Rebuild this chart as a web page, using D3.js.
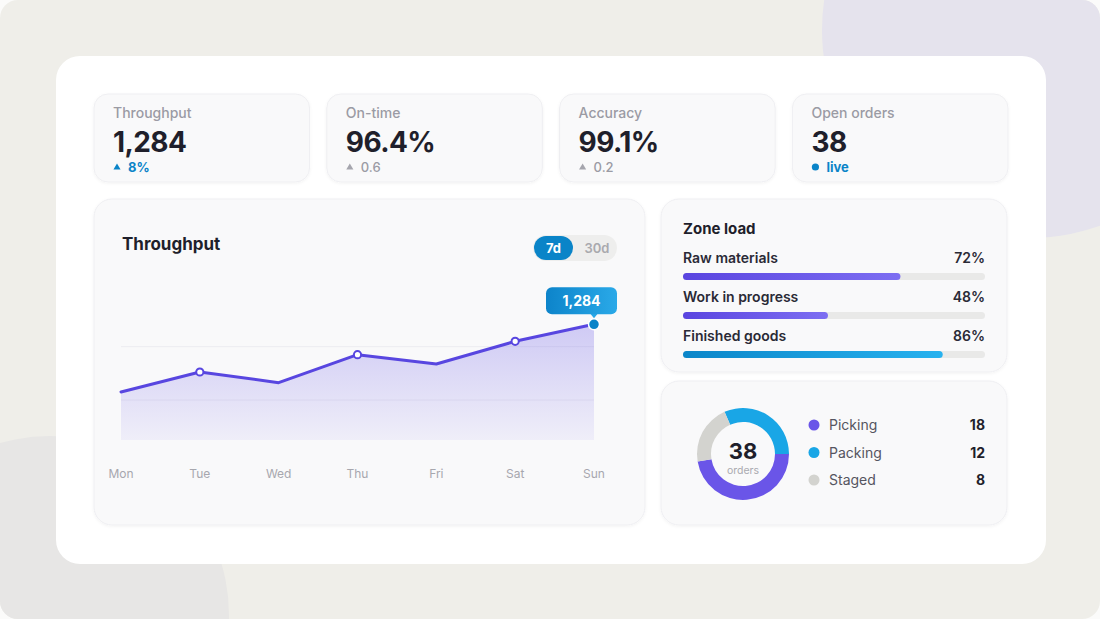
<!DOCTYPE html>
<html lang="en">
<head>
<meta charset="UTF-8">
<title>Warehouse dashboard</title>
<script src="https://cdn.jsdelivr.net/npm/d3@7"></script>
<style>
  html, body { margin: 0; padding: 0; background: #fbfbfa; }
  svg { display: block; font-family: Inter, "Noto Sans", sans-serif; }
</style>
</head>
<body>
<script>
// ---- data ----
var kpiLabels = ["Throughput", "On-time", "Accuracy", "Open orders"];
var kpiValues = ["1,284", "96.4%", "99.1%", "38"];
var kpiDeltas = ["8%", "0.6", "0.2", "live"];
var kpiDeltaKind = ["up", "flat", "flat", "live"];

var days = ["Mon", "Tue", "Wed", "Thu", "Fri", "Sat", "Sun"];
var throughput = [1030, 1105, 1065, 1170, 1135, 1220, 1284];
var gridTicks = [1000, 1200];

var zones = ["Raw materials", "Work in progress", "Finished goods"];
var zoneLoad = [72, 48, 86];

var orderStatus = ["Picking", "Packing", "Staged"];
var orderCounts = [18, 12, 8];
var orderColors = ["#6a55e8", "#19a6e6", "#d3d3cf"];

var W = 1100, H = 619;
var dark = "#1f1f2b", muted = "#9b9ba4", blue = "#0a84c8";

var svg = d3.select("body").append("svg")
    .attr("width", W)
    .attr("height", H);

var defs = svg.append("defs");

var shadow = defs.append("filter").attr("id", "shadow")
    .attr("x", "-10%").attr("y", "-10%").attr("width", "120%").attr("height", "130%");
shadow.append("feDropShadow")
    .attr("dx", 0).attr("dy", 1).attr("stdDeviation", 1.5)
    .attr("flood-color", "#000").attr("flood-opacity", 0.05);

function linGrad(id, c1, c2, vertical) {
    var g = defs.append("linearGradient").attr("id", id)
        .attr("x1", 0).attr("y1", 0)
        .attr("x2", vertical ? 0 : 1).attr("y2", vertical ? 1 : 0);
    g.append("stop").attr("offset", "0%").attr("stop-color", c1[0]).attr("stop-opacity", c1[1]);
    g.append("stop").attr("offset", "100%").attr("stop-color", c2[0]).attr("stop-opacity", c2[1]);
}
linGrad("areaGrad", ["#6c5ce7", 0.3], ["#6c5ce7", 0.07], true);
linGrad("purpleBar", ["#5a45e0", 1], ["#7d6ef2", 1], false);
linGrad("blueBar", ["#0b86c9", 1], ["#27b2ef", 1], false);
linGrad("tipGrad", ["#0d84ca", 1], ["#2aa9e8", 1], false);

// ---- background ----
var clip = defs.append("clipPath").attr("id", "pageClip");
clip.append("rect").attr("width", W).attr("height", H).attr("rx", 18);

var bg = svg.append("g").attr("clip-path", "url(#pageClip)");
bg.append("rect").attr("width", W).attr("height", H).attr("fill", "#efeee9");
bg.append("circle").attr("cx", 1030).attr("cy", 30).attr("r", 208).attr("fill", "#e5e3ed");
bg.append("circle").attr("cx", 50).attr("cy", 615).attr("r", 179).attr("fill", "#e7e6e5");

svg.append("rect")
    .attr("x", 56).attr("y", 56).attr("width", 990).attr("height", 508)
    .attr("rx", 24).attr("fill", "#ffffff");

function card(x, y, w, h, r) {
    return svg.append("rect")
        .attr("x", x).attr("y", y).attr("width", w).attr("height", h)
        .attr("rx", r).attr("fill", "#f9f9fa")
        .attr("stroke", "#efeff2").attr("stroke-width", 1)
        .attr("filter", "url(#shadow)");
}

// ---- KPI cards ----
var kpiX = d3.scaleBand().domain(d3.range(kpiLabels.length)).range([94, 1008]).paddingInner(0.074);

kpiLabels.forEach(function (lab, i) {
    var x0 = kpiX(i);
    card(x0, 94, kpiX.bandwidth(), 88, 14);
    var tx = x0 + 19;
    svg.append("text").attr("x", tx).attr("y", 118)
        .attr("font-size", 14).attr("font-weight", 500).attr("fill", muted).text(lab);
    svg.append("text").attr("x", tx).attr("y", 152)
        .attr("font-size", 28).attr("font-weight", 700).attr("fill", dark)
        .attr("letter-spacing", "-0.6").text(kpiValues[i]);

    var kind = kpiDeltaKind[i];
    var col = kind === "flat" ? muted : blue;
    if (kind === "live") {
        svg.append("circle").attr("cx", tx + 4).attr("cy", 167).attr("r", 3.6).attr("fill", blue);
    } else {
        svg.append("path")
            .attr("d", d3.symbol(d3.symbolTriangle, 22)())
            .attr("transform", "translate(" + (tx + 4) + ",167.5)")
            .attr("fill", kind === "up" ? blue : "#a5a5ad");
    }
    svg.append("text").attr("x", tx + 15).attr("y", 172)
        .attr("font-size", 13).attr("font-weight", kind === "flat" ? 500 : 700)
        .attr("fill", col).text(kpiDeltas[i]);
});

// ---- throughput chart ----
card(94, 199, 551, 326, 18);

svg.append("text").attr("x", 122).attr("y", 250)
    .attr("font-size", 17).attr("font-weight", 700).attr("fill", dark).text("Throughput");

svg.append("rect").attr("x", 533).attr("y", 235).attr("width", 84).attr("height", 26)
    .attr("rx", 13).attr("fill", "#eeeeed");
svg.append("rect").attr("x", 534).attr("y", 236).attr("width", 39).attr("height", 24)
    .attr("rx", 12).attr("fill", blue);
svg.append("text").attr("x", 553.5).attr("y", 252.5).attr("text-anchor", "middle")
    .attr("font-size", 13).attr("font-weight", 700).attr("fill", "#fff").text("7d");
svg.append("text").attr("x", 597).attr("y", 252.5).attr("text-anchor", "middle")
    .attr("font-size", 13).attr("font-weight", 600).attr("fill", "#a9a9ae").text("30d");

var x = d3.scalePoint().domain(days).range([121, 594]);
var y = d3.scaleLinear().domain([850, 1300]).range([440, 320]);

svg.append("g").selectAll("line")
    .data(gridTicks)
    .enter()
    .append("line")
    .attr("x1", 121).attr("x2", 594)
    .attr("y1", function (d) { return y(d); })
    .attr("y2", function (d) { return y(d); })
    .attr("stroke", "#ececf0").attr("stroke-width", 1);

var area = d3.area()
    .x(function (d, i) { return x(days[i]); })
    .y0(y(850))
    .y1(function (d) { return y(d); });

var line = d3.line()
    .x(function (d, i) { return x(days[i]); })
    .y(function (d) { return y(d); });

svg.append("path").datum(throughput).attr("d", area).attr("fill", "url(#areaGrad)");
svg.append("path").datum(throughput).attr("d", line)
    .attr("fill", "none").attr("stroke", "#5846e0").attr("stroke-width", 3)
    .attr("stroke-linejoin", "round").attr("stroke-linecap", "round");

// hollow markers on Tue, Thu, Sat
svg.append("g").selectAll("circle")
    .data(throughput.map(function (v, i) { return { v: v, i: i }; })
        .filter(function (d) { return d.i % 2 === 1; }))
    .enter()
    .append("circle")
    .attr("cx", function (d) { return x(days[d.i]); })
    .attr("cy", function (d) { return y(d.v); })
    .attr("r", 3.6)
    .attr("fill", "#fff").attr("stroke", "#5846e0").attr("stroke-width", 2);

var last = throughput.length - 1;
var lx = x(days[last]), ly = y(throughput[last]);
svg.append("circle").attr("cx", lx).attr("cy", ly).attr("r", 5.5)
    .attr("fill", blue).attr("stroke", "#fff").attr("stroke-width", 1.5);

// tooltip
var tipW = 71, tipH = 27;
var tipX = lx - 48, tipY = ly - 37;
svg.append("path")
    .attr("d", "M" + (lx - 4) + "," + (tipY + tipH - 1) + "L" + lx + "," + (tipY + tipH + 4) + "L" + (lx + 4) + "," + (tipY + tipH - 1) + "Z")
    .attr("fill", "#27a6e6");
svg.append("rect").attr("x", tipX).attr("y", tipY).attr("width", tipW).attr("height", tipH)
    .attr("rx", 6).attr("fill", "url(#tipGrad)");
svg.append("text").attr("x", tipX + tipW / 2).attr("y", tipY + 18.5).attr("text-anchor", "middle")
    .attr("font-size", 14).attr("font-weight", 700).attr("fill", "#fff")
    .text(d3.format(",")(throughput[last]));

// x axis labels
svg.append("g").selectAll("text")
    .data(days)
    .enter()
    .append("text")
    .attr("x", function (d) { return x(d); })
    .attr("y", 478)
    .attr("text-anchor", "middle")
    .attr("font-size", 12).attr("fill", "#a7a7ae")
    .text(function (d) { return d; });

// ---- zone load ----
card(661, 199, 346, 173, 18);
svg.append("text").attr("x", 683).attr("y", 234)
    .attr("font-size", 15).attr("font-weight", 700).attr("fill", dark).text("Zone load");

var bx = d3.scaleLinear().domain([0, 100]).range([683, 985]);
var rowY = d3.scalePoint().domain(zones).range([263, 341]);

zones.forEach(function (z, i) {
    var ty = rowY(z);
    svg.append("text").attr("x", 683).attr("y", ty)
        .attr("font-size", 14).attr("font-weight", 600).attr("fill", "#2a2a36").text(z);
    svg.append("text").attr("x", 985).attr("y", ty).attr("text-anchor", "end")
        .attr("font-size", 14).attr("font-weight", 600).attr("fill", "#2a2a36").text(zoneLoad[i] + "%");
    svg.append("rect").attr("x", bx(0)).attr("y", ty + 10).attr("width", bx(100) - bx(0)).attr("height", 7)
        .attr("rx", 3.5).attr("fill", "#e9e9e8");
    svg.append("rect").attr("x", bx(0)).attr("y", ty + 10).attr("width", bx(zoneLoad[i]) - bx(0)).attr("height", 7)
        .attr("rx", 3.5).attr("fill", i === 2 ? "url(#blueBar)" : "url(#purpleBar)");
});

// ---- orders donut ----
card(661, 381, 346, 144, 18);

var total = d3.sum(orderCounts);
var start = Math.PI / 2 + 2 * Math.PI * orderCounts[0] / total;
var pie = d3.pie().sort(null).startAngle(start).endAngle(start - 2 * Math.PI);
var arc = d3.arc().innerRadius(32).outerRadius(46);

var donut = svg.append("g").attr("transform", "translate(743,454)");
donut.selectAll("path")
    .data(pie(orderCounts))
    .enter()
    .append("path")
    .attr("d", arc)
    .attr("fill", function (d, i) { return orderColors[i]; });
donut.append("text").attr("y", 5).attr("text-anchor", "middle")
    .attr("font-size", 22).attr("font-weight", 700).attr("fill", dark).text(total);
donut.append("text").attr("y", 20).attr("text-anchor", "middle")
    .attr("font-size", 10.5).attr("fill", "#a9a9b0").text("orders");

var legY = d3.scalePoint().domain(orderStatus).range([425, 480]);
orderStatus.forEach(function (s, i) {
    var ly2 = legY(s);
    svg.append("circle").attr("cx", 814).attr("cy", ly2).attr("r", 5.5).attr("fill", orderColors[i]);
    svg.append("text").attr("x", 829).attr("y", ly2 + 5)
        .attr("font-size", 14).attr("fill", "#555560").text(s);
    svg.append("text").attr("x", 985).attr("y", ly2 + 5).attr("text-anchor", "end")
        .attr("font-size", 14).attr("font-weight", 700).attr("fill", dark).text(orderCounts[i]);
});
</script>
</body>
</html>
